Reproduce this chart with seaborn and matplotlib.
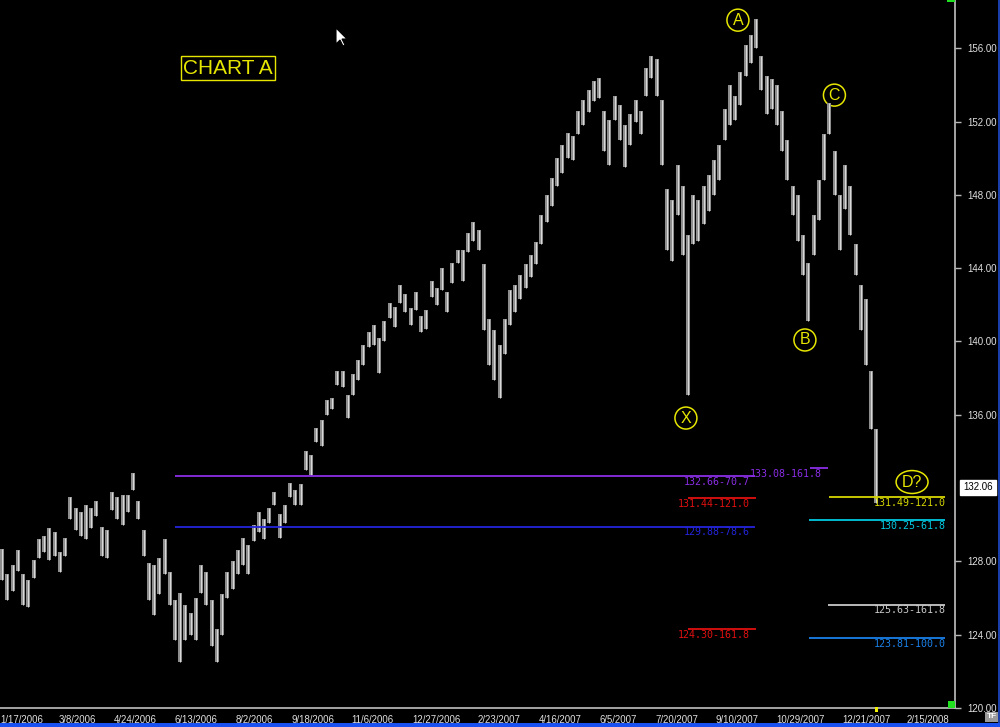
import numpy as np
import pandas as pd
import matplotlib.pyplot as plt
import seaborn as sns
from matplotlib.patches import Ellipse, Rectangle, Polygon

# Bar highs / lows, one bar every 3 sessions
high = [
    128.9, 128.7, 127.3, 127.8, 128.6, 127.3, 127.0, 128.1, 129.2, 129.4,
    129.8, 129.6, 128.5, 129.3, 131.5, 130.9, 130.7, 131.1, 130.9, 131.3,
    129.9, 129.7, 131.8, 131.5, 131.6, 131.6, 132.8, 131.3, 129.7, 127.9,
    127.8, 128.2, 129.2, 127.4, 125.9, 126.3, 125.6, 125.2, 126.0, 127.8,
    127.4, 125.9, 124.3, 126.2, 127.4, 128.0, 128.6, 129.3, 128.9, 130.0,
    130.7, 130.3, 130.9, 131.8, 130.6, 131.1, 132.3, 131.9, 132.2, 134.0,
    133.8, 135.3, 135.7, 136.8, 136.9, 138.4, 138.4, 137.1, 138.2, 139.0,
    139.8, 140.5, 140.9, 140.2, 141.1, 142.1, 141.9, 143.1, 142.6, 141.8,
    142.7, 141.4, 141.7, 143.3, 142.9, 144.0, 142.7, 144.3, 145.0, 145.0,
    145.9, 146.5, 146.1, 144.2, 141.2, 140.6, 139.8, 141.2, 142.8, 143.1,
    143.6, 144.2, 144.7, 145.4, 146.9, 148.0, 148.9, 150.0, 150.7, 151.4,
    151.2, 152.6, 153.2, 153.7, 154.2, 154.4, 152.6, 152.1, 153.4, 152.9,
    151.8, 152.4, 153.2, 152.6, 154.9, 155.6, 155.4, 153.2, 148.3, 147.7,
    149.6, 148.5, 145.8, 148.0, 147.7, 148.5, 149.1, 149.9, 150.7, 152.7,
    154.0, 153.4, 154.7, 156.2, 156.7, 157.6, 155.6, 154.5, 154.3, 154.0,
    152.6, 151.0, 148.5, 148.0, 145.8, 144.3, 146.9, 148.8, 151.3, 153.0,
    150.4, 148.0, 149.6, 148.5, 145.3, 143.1, 142.3, 138.4, 135.2]
low = [
    127.3, 127.0, 125.9, 126.4, 127.5, 125.6, 125.5, 127.1, 128.2, 128.5,
    128.1, 128.3, 127.4, 128.3, 130.3, 129.7, 129.4, 129.2, 129.8, 130.5,
    128.3, 128.2, 130.8, 130.3, 130.0, 130.7, 131.9, 130.3, 128.3, 125.9,
    125.1, 126.2, 127.3, 125.6, 123.7, 122.5, 123.7, 124.0, 123.7, 126.3,
    125.6, 123.4, 122.5, 124.0, 126.0, 126.5, 127.3, 127.8, 127.3, 129.1,
    129.6, 129.2, 130.1, 131.1, 129.3, 130.1, 131.5, 131.1, 131.1, 133.0,
    132.7, 134.5, 134.3, 136.0, 136.3, 137.6, 137.5, 135.8, 137.1, 137.9,
    138.7, 139.7, 139.8, 138.3, 140.0, 141.3, 140.8, 142.1, 141.6, 140.9,
    141.7, 140.5, 140.7, 142.4, 142.0, 142.8, 141.6, 143.2, 144.3, 143.3,
    144.9, 145.5, 145.0, 140.6, 138.7, 137.9, 136.9, 139.3, 140.9, 141.6,
    142.3, 142.9, 143.5, 144.2, 145.3, 146.5, 147.4, 148.5, 149.2, 150.0,
    149.9, 151.3, 151.8, 152.5, 153.1, 153.3, 150.4, 149.6, 152.1, 151.0,
    149.5, 150.7, 152.0, 151.3, 153.4, 154.4, 153.4, 149.6, 145.0, 144.4,
    146.9, 144.7, 137.1, 145.3, 145.5, 146.4, 147.1, 148.0, 148.8, 151.0,
    151.8, 152.1, 152.9, 154.5, 155.2, 156.0, 153.7, 152.4, 152.7, 151.8,
    150.4, 148.8, 146.9, 145.5, 143.6, 141.1, 144.7, 146.6, 148.8, 151.3,
    148.0, 145.0, 147.2, 145.8, 143.6, 140.6, 138.7, 135.2, 131.2]
last_price = 132.06

# x axis labels (session index of each label)
tick_sessions = [1.8, 35.5, 67.0, 102.0, 137.0, 168.5, 202.9, 237.8, 275.6,
                 310.6, 345.0, 377.1, 411.5, 446.4, 484.2, 521.5]
tick_labels = ["1/17/2006", "3/8/2006", "4/24/2006", "6/13/2006", "8/2/2006",
               "9/18/2006", "11/6/2006", "12/27/2006", "2/23/2007", "4/16/2007",
               "6/5/2007", "7/20/2007", "9/10/2007", "10/29/2007", "12/21/2007",
               "2/15/2008"]
# 132.00 sits under the last-price box, so it is not listed
y_ticks = [120, 124, 128, 136, 140, 144, 148, 152, 156]

# projection levels
level_price = [132.66, 133.08, 131.44, 129.88, 124.30, 131.49, 130.25, 125.63, 123.81]
level_tag = ["70.7", "161.8", "121.0", "78.6", "161.8", "121.0", "61.8", "161.8", "100.0"]
level_start = [102.0, 465.9, 396.0, 102.0, 396.0, 476.8, 465.3, 476.2, 465.3]
level_end = [434.4, 476.2, 435.0, 434.4, 435.0, 543.3, 543.3, 543.3, 543.3]
level_text_x = [431.5, 472.8, 431.5, 431.5, 431.5, 543.9, 543.9, 543.9, 543.9]
level_color = ["#8a2ee6", "#8a2ee6", "#e01010", "#2424dc", "#e01010",
               "#d6d600", "#00c8e0", "#c8c8c8", "#1a80e8"]

# wave labels
wave_names = ["A", "C", "B", "X", "D?"]
wave_x = [424.6, 479.9, 463.0, 394.8, 524.4]
wave_y = [157.53, 153.44, 140.08, 135.82, 132.33]

sns.set_style("dark", rc={"axes.facecolor": "black", "figure.facecolor": "black",
                          "axes.grid": False})
plt.rcParams["font.family"] = ["Liberation Sans", "DejaVu Sans"]

W, H = 1000, 727
fig = plt.figure(figsize=(10, 7.27), dpi=100)
ax = fig.add_axes([0, 19 / H, 955 / W, 708 / H])
ax.set_facecolor("black")

bars = pd.DataFrame({
    "session": np.repeat(np.arange(len(high)) * 3, 2),
    "price": np.ravel(np.column_stack([low, high])),
    "bar": np.repeat(np.arange(len(high)), 2),
})
# grey body plus a thin light stroke, like the dense daily bars
sns.lineplot(data=bars, x="session", y="price", units="bar", estimator=None,
             color="#8e8e8e", linewidth=2.9, solid_capstyle="butt", ax=ax,
             legend=False)
sns.lineplot(data=bars, x="session", y="price", units="bar", estimator=None,
             color="#dcdcdc", linewidth=0.7, solid_capstyle="butt", ax=ax,
             legend=False)

# levels
for p, tag, x0, x1, tx, c in zip(level_price, level_tag, level_start, level_end,
                                 level_text_x, level_color):
    ax.hlines(p, x0, x1, color=c, linewidth=1.3)
    ax.annotate(f"{p:.2f}-{tag}", (tx, p), xytext=(0, -4), textcoords="offset points",
                ha="right", va="center", color=c, fontsize=7.2,
                family="DejaVu Sans Mono")

# wave circles
for name, wx, wy in zip(wave_names, wave_x, wave_y):
    w, h = (18.3, 1.25) if name == "D?" else (12.6, 1.2)
    ax.add_patch(Ellipse((wx, wy), w, h, facecolor="none", edgecolor="#e6e600",
                         linewidth=1.1, clip_on=False))
    ax.text(wx, wy, name, ha="center", va="center", color="#e6e600", fontsize=11.5)

ax.text(183 / 955, 1 - 68 / 708, "CHART A", transform=ax.transAxes, ha="left",
        va="center", color="#e6e600", fontsize=15,
        bbox=dict(boxstyle="square,pad=0.12", facecolor="black", edgecolor="#e6e600",
                  linewidth=1))

ax.set_xlim(1.72, 549.0)
ax.set_ylim(120, 158.63)
ax.yaxis.tick_right()
ax.set_yticks(y_ticks)
ax.set_yticklabels([f"{v:.2f}" for v in y_ticks])
ax.set_xticks(tick_sessions)
ax.set_xticklabels(tick_labels)
for lab in ax.get_xticklabels():
    lab.set_ha("left")
ax.set_xlabel("")
ax.set_ylabel("")
ax.tick_params(axis="x", colors="#b8b8b8", labelcolor="#e0e0e0", length=3,
               width=1, pad=2, labelsize=6.9, direction="out")
ax.tick_params(axis="y", colors="#b8b8b8", labelcolor="#e0e0e0", length=4,
               width=1, pad=5, labelsize=7.0, direction="out")
for s in ["top", "left"]:
    ax.spines[s].set_visible(False)
for s in ["bottom", "right"]:
    ax.spines[s].set_visible(True)
    ax.spines[s].set_color("#c0c0c0")
    ax.spines[s].set_linewidth(1.2)

# current price box
fig.text(978 / W, 1 - 487.5 / H, f"{last_price:.2f}", ha="center", va="center",
         color="black", fontsize=7.0,
         bbox=dict(boxstyle="square,pad=0.3", facecolor="white", edgecolor="white"))


def px_rect(x0, y0, x1, y1, color):
    fig.patches.append(Rectangle((x0 / W, 1 - y1 / H), (x1 - x0) / W, (y1 - y0) / H,
                                 transform=fig.transFigure, facecolor=color,
                                 edgecolor="none", zorder=5))


px_rect(948, 701, 955, 708, "#20e020")
px_rect(947, 0, 955, 2, "#20e020")
px_rect(875, 707, 878, 712, "#f0f000")
px_rect(0, 723, W, H, "#1a4ff0")
px_rect(998, 0, W, 723, "#1a3fa8")
px_rect(985, 712, 998, 722, "#9a9a9a")
fig.text(991.5 / W, 1 - 717 / H, "TF", ha="center", va="center", color="white",
         fontsize=6, fontweight="bold", zorder=6)

# mouse pointer
cur = np.array([[0, 0], [0, 16], [4, 12], [7, 18], [9, 17], [6, 11], [11, 11]]) + [336, 28]
fig.patches.append(Polygon(np.column_stack([cur[:, 0] / W, 1 - cur[:, 1] / H]),
                           closed=True, transform=fig.transFigure,
                           facecolor="white", edgecolor="black", linewidth=0.8))

fig.savefig("out.png", dpi=100, facecolor="black")
